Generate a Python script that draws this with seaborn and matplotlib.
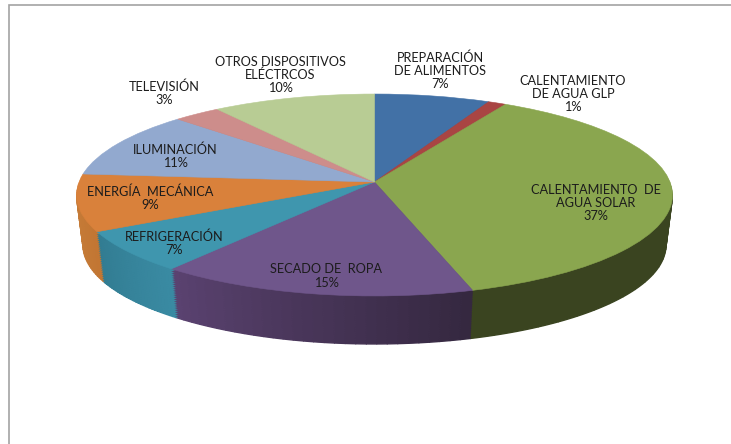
import numpy as np
import matplotlib
matplotlib.use('Agg')
import matplotlib.pyplot as plt
import matplotlib.transforms as mtransforms
import seaborn as sns

categories = ['PREPARACIÓN\nDE ALIMENTOS', 'CALENTAMIENTO\nDE AGUA GLP', 'CALENTAMIENTO  DE\nAGUA SOLAR',
              'SECADO DE  ROPA', 'REFRIGERACIÓN', 'ENERGÍA  MECÁNICA', 'ILUMINACIÓN', 'TELEVISIÓN',
              'OTROS DISPOSITIVOS\nELÉCTRCOS']
values = [7.1, 1.1, 37.1, 15.3, 6.6, 9.1, 10.8, 2.9, 10.0]

top_colors = ['#4271a6', '#a94543', '#8aa64f', '#6f568b', '#3f96ae', '#d9813b', '#92a9cf', '#cd8d8b', '#b8cc94']
wall_start = ['#2f4f75', '#762f2f', '#3a4420', '#352840', '#3a8ba3', '#c27633', '#66768f', '#8f6261', '#808e67']
wall_end = ['#2f4f75', '#762f2f', '#3a4420', '#5a4270', '#327c92', '#c9813c', '#66768f', '#8f6261', '#808e67']

label_x = [440, 573, 596, 326, 174, 150, 175, 164, 280]
label_y = [71, 94, 203, 276, 243, 198, 156, 93, 75]

sns.set_theme(style='white', palette=sns.color_palette(top_colors))
plt.rcParams['font.family'] = ['Lato', 'DejaVu Sans']


class TiltPie(mtransforms.Transform):
    # unit circle -> tilted disc in pixels, the far side comes out smaller
    input_dims = 2
    output_dims = 2

    def __init__(self, level=0.0):
        super().__init__()
        self.level = level

    def transform_non_affine(self, xy):
        xy = np.asarray(xy, dtype=float)
        w = 1 + 0.1287 * xy[:, 1]
        shrink = 1 - 0.022 * self.level
        px = 374.5 + 295.5 * shrink * xy[:, 0] / w
        py = 182 + 50.5 * self.level - 99.3 * shrink * xy[:, 1] / w
        return np.column_stack([px, py])


def wall_shades(steps):
    shades = []
    for a, b in zip(wall_start, wall_end):
        a = np.array(matplotlib.colors.to_rgb(a))
        b = np.array(matplotlib.colors.to_rgb(b))
        for i in range(steps):
            shades.append(tuple(a + (b - a) * i / (steps - 1)))
    return shades


fig = plt.figure(figsize=(7.31, 4.44), dpi=100, facecolor='white')
ax = fig.add_axes([0, 0, 1, 1])

# side wall, stacked copies of the pie from the base up
steps = 30
wall_values = np.repeat(np.array(values) / steps, steps)
shades = wall_shades(steps)
for level in np.linspace(1, 0.04, 26):
    wedges, _ = ax.pie(wall_values, startangle=90, counterclock=False, colors=shades,
                       wedgeprops={'linewidth': 1.0})
    for w, c in zip(wedges, shades):
        w.set_edgecolor(c)
        w.set_transform(TiltPie(level) + ax.transData)

wedges, _ = ax.pie(values, startangle=90, counterclock=False, colors=top_colors,
                   wedgeprops={'linewidth': 0.4})
for w, c in zip(wedges, top_colors):
    w.set_edgecolor(c)
    w.set_transform(TiltPie(0) + ax.transData)

ax.set_aspect('auto')
ax.set_xlim(0, 731)
ax.set_ylim(444, 0)
ax.axis('off')

# frame only on the top and left
ax.plot([9, 9, 731], [444, 5.5, 5.5], color='#a3a3a3', lw=1.2, solid_joinstyle='miter')

for name, v, x, y in zip(categories, values, label_x, label_y):
    ax.text(x, y, f'{name}\n{v:.0f}%', ha='center', va='center', fontsize=9.2, color='#1c1c1c',
            linespacing=1.12, multialignment='center')

fig.savefig('out.png', dpi=100)
